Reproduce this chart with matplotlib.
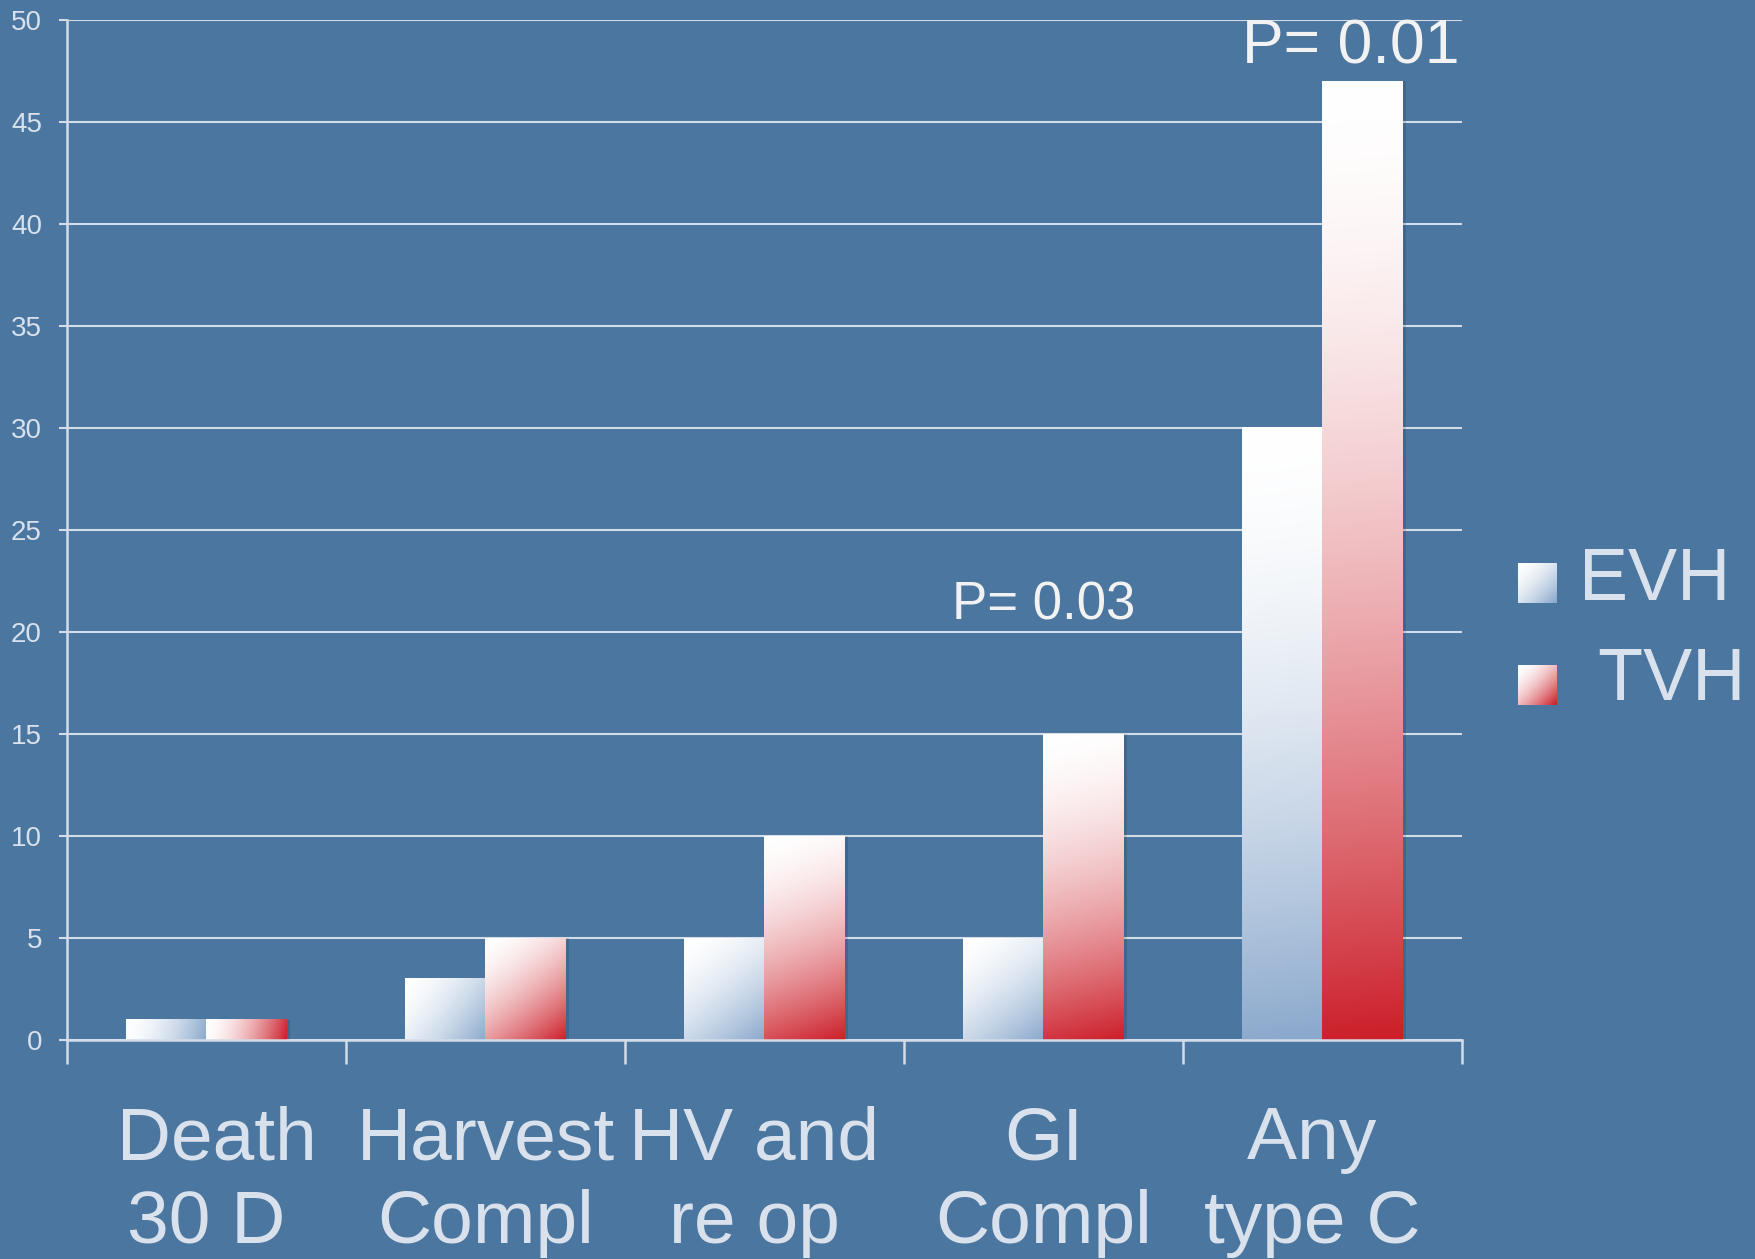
import numpy as np
import matplotlib.pyplot as plt
from matplotlib.colors import to_rgb
from matplotlib.patches import Rectangle
import matplotlib.transforms as mtransforms

# ---------------------------
# data
# ---------------------------
categories = [(' Death', '30 D'), ('Harvest', 'Compl'), ('HV and ', 're op '),
              ('GI', 'Compl'), ('Any ', 'type C ')]
evh = [1, 3, 5, 5, 30]
tvh = [1, 5, 10, 15, 47]
series_names = ['EVH', ' TVH']
yticks = [0, 5, 10, 15, 20, 25, 30, 35, 40, 45, 50]
p_notes = [(3, 'P= 0.03'), (4, 'P= 0.01')]

BG = '#4B76A0'
LINE = '#D3DDE8'
TEXT = '#D8E1EC'
EVH_END = '#8AA8CC'
TVH_END = '#CC1F2A'
W = 0.287

plt.rcParams['font.family'] = ['Liberation Sans', 'DejaVu Sans']

W_PX, H_PX = 1756, 1259
fig = plt.figure(figsize=(W_PX / 100, H_PX / 100), dpi=100, facecolor=BG)
ax_left, ax_right, ax_top, ax_bot = 67, 1462, 20, 1040
ax = fig.add_axes([ax_left / W_PX, 1 - ax_bot / H_PX,
                   (ax_right - ax_left) / W_PX, (ax_bot - ax_top) / H_PX])
ax.set_facecolor(BG)
px_per_x = (ax_right - ax_left) / 5.0
px_per_y = (ax_bot - ax_top) / 50.0


def grad(end, w_px, h_px, n=80, m=120):
    # gradient along the box diagonal (top-left white -> bottom-right colour)
    u = np.linspace(0, 1, n)[None, :]
    v = np.linspace(0, 1, m)[:, None]
    t = (u * w_px ** 2 + v * h_px ** 2) / (w_px ** 2 + h_px ** 2)
    t = t ** 1.7
    c = np.array(to_rgb(end))
    return (1 - t)[..., None] * np.ones(3) + t[..., None] * c


def gradient_bar(ax, x0, h, end):
    # soft shadow on the right
    ax.add_patch(Rectangle((x0 + 0.012, 0), W, h, color='black', alpha=0.12,
                           lw=0, zorder=2))
    ax.imshow(grad(end, W * px_per_x, h * px_per_y), extent=(x0, x0 + W, 0, h),
              origin='upper', aspect='auto', interpolation='bilinear', zorder=3)


x = np.arange(len(categories))
for i in x:
    gradient_bar(ax, i - W, evh[i], EVH_END)
    gradient_bar(ax, i, tvh[i], TVH_END)

ax.set_xlim(-0.5, len(categories) - 0.5)
ax.set_ylim(0, 50)

# grid / axes
ax.set_yticks(yticks)
ax.set_yticklabels([str(v) for v in yticks])
ax.yaxis.grid(True, color=LINE, lw=1.5)
ax.set_axisbelow(True)
ax.set_xticks(np.arange(-0.5, len(categories), 1.0))
ax.set_xticklabels([])
for s in ['top', 'right']:
    ax.spines[s].set_visible(False)
for s in ['left', 'bottom']:
    ax.spines[s].set_color(LINE)
    ax.spines[s].set_linewidth(1.8)
    ax.spines[s].set_zorder(5)
ax.tick_params(axis='y', colors=LINE, labelcolor=TEXT, labelsize=20,
               length=6, width=1.5, pad=12)
ax.tick_params(axis='x', colors=LINE, length=17, width=1.8, direction='out')

# category labels (two lines each)
trans = mtransforms.blended_transform_factory(ax.transData, fig.transFigure)
for i, (l1, l2) in enumerate(categories):
    ax.text(i, 1 - 1159 / H_PX, l1, transform=trans, ha='center', va='baseline',
            fontsize=54, color=TEXT, clip_on=False)
    ax.text(i, 1 - 1243 / H_PX, l2, transform=trans, ha='center', va='baseline',
            fontsize=54, color=TEXT, clip_on=False)

# p-value notes
ax.text(p_notes[0][0], 21.3, p_notes[0][1], ha='center', va='center',
        fontsize=38, color='#F2F2F2')
ax.text(p_notes[1][0] + 0.1, 48.7, p_notes[1][1], ha='center', va='center',
        fontsize=45, color='#F2F2F2', clip_on=False)

# legend drawn by hand
legend_items = [(EVH_END, 563, 580, 1579), (TVH_END, 665, 681, 1579)]
for (end, sq_top, text_y, text_x), name in zip(legend_items, series_names):
    lax = fig.add_axes([1518 / W_PX, 1 - (sq_top + 40) / H_PX, 39 / W_PX, 40 / H_PX])
    lax.imshow(grad(end, 40, 40, 20, 20), aspect='auto', interpolation='bilinear')
    lax.axis('off')
    fig.text(text_x / W_PX, 1 - text_y / H_PX, name, ha='left', va='center',
             fontsize=53, color=TEXT)

fig.savefig('out.png', dpi=100, facecolor=BG)
